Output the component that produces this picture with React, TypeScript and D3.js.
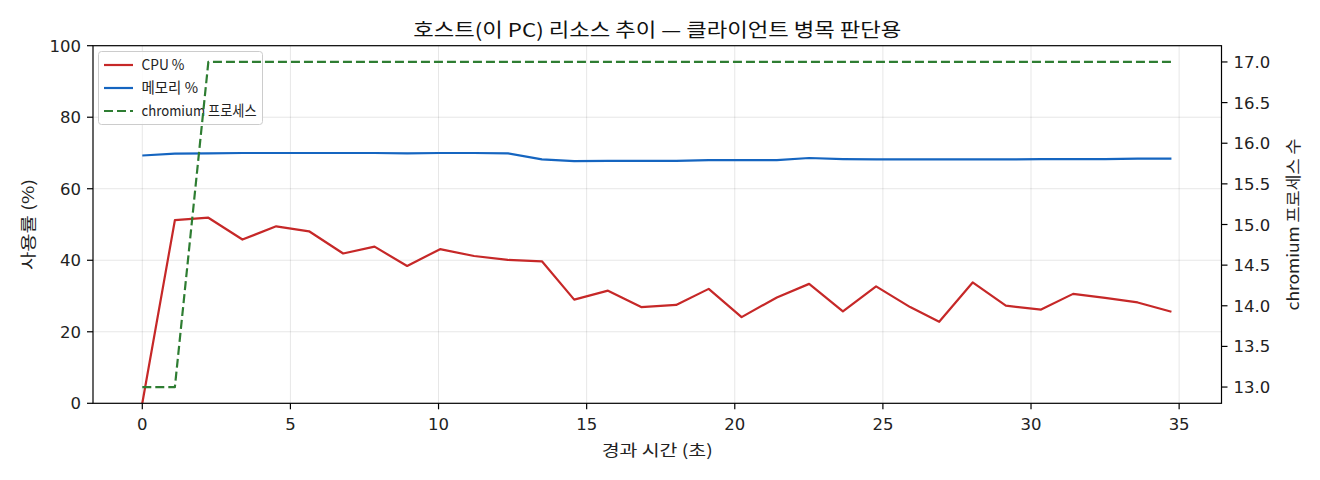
import React from "react";
import * as d3 from "d3";

const times = [0, 1.1, 2.23, 3.38, 4.52, 5.63, 6.78, 7.84, 8.94, 10.05, 11.2, 12.34, 13.49, 14.58, 15.72, 16.84, 18.02, 19.12, 20.23, 21.42, 22.51, 23.65, 24.77, 25.92, 26.9, 28.03, 29.15, 30.34, 31.42, 32.5, 33.6, 34.74];
const cpuPct = [0, 51.2, 51.9, 45.8, 49.5, 48.1, 41.9, 43.8, 38.4, 43.1, 41.2, 40.1, 39.7, 29.0, 31.5, 26.9, 27.5, 32.0, 24.1, 29.6, 33.4, 25.7, 32.7, 26.9, 22.8, 33.8, 27.3, 26.2, 30.6, 29.5, 28.2, 25.6];
const memPct = [69.3, 69.8, 69.9, 70.0, 70.0, 70.0, 70.0, 70.0, 69.9, 70.0, 70.0, 69.9, 68.2, 67.7, 67.8, 67.8, 67.8, 68.0, 68.0, 68.0, 68.6, 68.3, 68.2, 68.2, 68.2, 68.2, 68.2, 68.3, 68.3, 68.3, 68.4, 68.4];
const chromiumCount = [13, 13, 17, 17, 17, 17, 17, 17, 17, 17, 17, 17, 17, 17, 17, 17, 17, 17, 17, 17, 17, 17, 17, 17, 17, 17, 17, 17, 17, 17, 17, 17];

const xTicks = [0, 5, 10, 15, 20, 25, 30, 35];
const yLeftTicks = [0, 20, 40, 60, 80, 100];
const yRightTicks = [13.0, 13.5, 14.0, 14.5, 15.0, 15.5, 16.0, 16.5, 17.0];

const title = "호스트(이 PC) 리소스 추이 — 클라이언트 병목 판단용";
const xLabel = "경과 시간 (초)";
const yLeftLabel = "사용률 (%)";
const yRightLabel = "chromium 프로세스 수";
const legendLabels = ["CPU %", "메모리 %", "chromium 프로세스"];
const legendWidths = [43, 56.5, 115];

const W = 1320, H = 480;
const L = 93, R = 1221.5, T = 45.7, B = 403.3;
const KFONT = "'Noto Sans CJK KR', 'Noto Sans', sans-serif";
const NFONT = "'DejaVu Sans', sans-serif";
const C_CPU = "#c62828", C_MEM = "#1565c0", C_CHR = "#2e7d32";
const DASH = "9,4";
const LW = 2.2;

export default function App() {
  const x = d3.scaleLinear().domain([-1.664, 36.43]).range([L, R]);
  const yL = d3.scaleLinear().domain([0, 100]).range([B, T]);
  const yR = d3.scaleLinear().domain([12.8, 17.2]).range([B, T]);

  const lineL = (vals: number[]) =>
    d3.line<number>().x((_, i) => x(times[i])).y((d) => yL(d))(vals) || "";
  const lineR = d3.line<number>().x((_, i) => x(times[i])).y((d) => yR(d))(chromiumCount) || "";
  const cy = (T + B) / 2;
  const cx = (L + R) / 2;

  return (
    <svg width={W} height={H} style={{ position: "absolute", left: 0, top: 0, background: "#fff" }} fontFamily={KFONT}>
      <rect x={0} y={0} width={W} height={H} fill="#fff" />
      <defs>
        <clipPath id="plot">
          <rect x={L} y={T} width={R - L} height={B - T} />
        </clipPath>
      </defs>
      {/* grid */}
      <g stroke="#000" strokeOpacity={0.11} strokeWidth={0.9}>
        {xTicks.map((t) => (
          <line key={"gx" + t} x1={x(t)} x2={x(t)} y1={T} y2={B} />
        ))}
        {yLeftTicks.filter((t) => t > 0 && t < 100).map((t) => (
          <line key={"gy" + t} x1={L} x2={R} y1={yL(t)} y2={yL(t)} />
        ))}
      </g>
      <g clipPath="url(#plot)" fill="none" strokeLinejoin="round">
        <path d={lineL(cpuPct)} stroke={C_CPU} strokeWidth={LW} />
        <path d={lineL(memPct)} stroke={C_MEM} strokeWidth={LW} />
      </g>
      {/* legend */}
      <g>
        <rect x={98.5} y={51.5} width={164} height={73} rx={3} fill="#fff" fillOpacity={0.85} stroke="#cccccc" strokeWidth={1} />
        {legendLabels.map((lab, i) => {
          const yy = 65 + i * 23;
          const col = [C_CPU, C_MEM, C_CHR][i];
          return (
            <g key={lab}>
              <line x1={104} x2={133} y1={yy} y2={yy} stroke={col} strokeWidth={LW} strokeDasharray={i === 2 ? DASH : undefined} />
              <text x={141.5} y={yy + 5} fontSize={14.5} fill="#222" textLength={legendWidths[i]} lengthAdjust="spacingAndGlyphs">{lab}</text>
            </g>
          );
        })}
      </g>
      <g clipPath="url(#plot)" fill="none" strokeLinejoin="round">
        <path d={lineR} stroke={C_CHR} strokeWidth={LW} strokeDasharray={DASH} />
      </g>
      {/* frame */}
      <rect x={L} y={T} width={R - L} height={B - T} fill="none" stroke="#000" strokeWidth={1.2} />
      {/* ticks */}
      <g fontSize={16.5} fill="#222" fontFamily={NFONT}>
        {xTicks.map((t) => (
          <g key={"xt" + t}>
            <line x1={x(t)} x2={x(t)} y1={B} y2={B + 6} stroke="#000" strokeWidth={1.2} />
            <text x={x(t)} y={429.5} textAnchor="middle">{t}</text>
          </g>
        ))}
        {yLeftTicks.map((t) => (
          <g key={"yl" + t}>
            <line x1={L - 6} x2={L} y1={yL(t)} y2={yL(t)} stroke="#000" strokeWidth={1.2} />
            <text x={L - 12} y={yL(t) + 6} textAnchor="end">{t}</text>
          </g>
        ))}
        {yRightTicks.map((t) => (
          <g key={"yr" + t}>
            <line x1={R} x2={R + 6} y1={yR(t)} y2={yR(t)} stroke="#000" strokeWidth={1.2} />
            <text x={R + 12} y={yR(t) + 6} textAnchor="start">{t.toFixed(1)}</text>
          </g>
        ))}
      </g>
      {/* labels */}
      <text x={cx} y={37} textAnchor="middle" fontSize={19} fill="#111" textLength={488} lengthAdjust="spacingAndGlyphs">{title}</text>
      <text x={cx} y={456} textAnchor="middle" fontSize={16} fill="#222" textLength={111} lengthAdjust="spacingAndGlyphs">{xLabel}</text>
      <text transform={`translate(34,${cy}) rotate(-90)`} textAnchor="middle" fontSize={16} fill="#222" textLength={91} lengthAdjust="spacingAndGlyphs">{yLeftLabel}</text>
      <text transform={`translate(1299,${cy}) rotate(-90)`} textAnchor="middle" fontSize={16} fill="#222" textLength={172} lengthAdjust="spacingAndGlyphs">{yRightLabel}</text>
    </svg>
  );
}
